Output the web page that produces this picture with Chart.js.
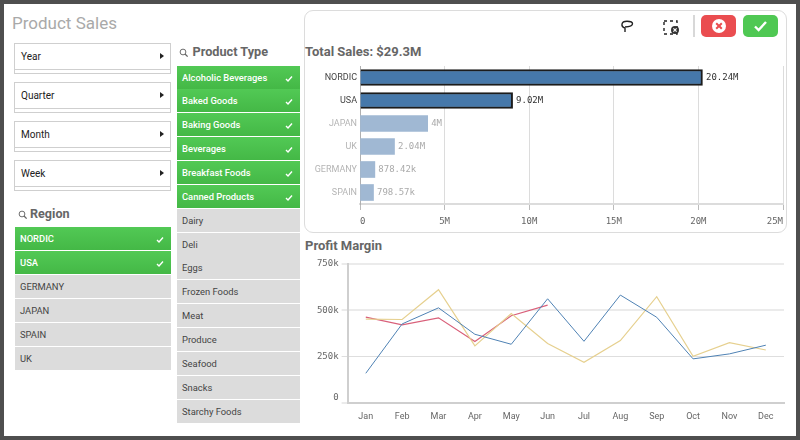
<!DOCTYPE html>
<html>
<head>
<meta charset="utf-8">
<title>Product Sales</title>
<script src="https://cdn.jsdelivr.net/npm/chart.js@4/dist/chart.umd.min.js"></script>
<style>
html,body{margin:0;padding:0;width:800px;height:440px;overflow:hidden;background:#4f4f4f;font-family:Roboto,sans-serif}
canvas{display:block}
svg{display:block}
</style>
</head>
<body>
<div id="root"></div>
<script>
const regions = ['NORDIC','USA','JAPAN','UK','GERMANY','SPAIN'];
const regionSales = [20240000,9020000,4000000,2040000,878420,798570];
const regionLabels = ['20.24M','9.02M','4M','2.04M','878.42k','798.57k'];
const selectedRegions = ['NORDIC','USA'];
const salesTicks = [0,5000000,10000000,15000000,20000000,25000000];

const months = ['Jan','Feb','Mar','Apr','May','Jun','Jul','Aug','Sep','Oct','Nov','Dec'];
const marginBlue = [159,426,513,370,316,562,332,582,462,237,264,311];
const marginYellow = [452,450,611,307,482,320,219,336,573,251,325,285];
const marginRed = [463,421,459,331,470,528];

const dateFilters = ['Year','Quarter','Month','Week'];
const regionList = ['NORDIC','USA','GERMANY','JAPAN','SPAIN','UK'];
const productTypes = ['Alcoholic Beverages','Baked Goods','Baking Goods','Beverages','Breakfast Foods','Canned Products','Dairy','Deli','Eggs','Frozen Foods','Meat','Produce','Seafood','Snacks','Starchy Foods'];
const selectedProducts = ['Alcoholic Beverages','Baked Goods','Baking Goods','Beverages','Breakfast Foods','Canned Products'];

const root = document.getElementById('root');
function el(tag, css, text){
  const e = document.createElement(tag);
  e.style.cssText = 'position:absolute;box-sizing:border-box;' + css;
  if(text !== undefined) e.textContent = text;
  root.appendChild(e);
  return e;
}
function svg(css, w, h, inner){
  const d = el('div', css + `width:${w}px;height:${h}px;`);
  d.innerHTML = `<svg width="${w}" height="${h}" viewBox="0 0 ${w} ${h}" xmlns="http://www.w3.org/2000/svg">${inner}</svg>`;
}
const mag = '<g transform="scale(.8)"><circle cx="5" cy="5" r="3.6" fill="none" stroke="#666" stroke-width="1.2"/><line x1="7.5" y1="7.5" x2="10.8" y2="10.8" stroke="#666" stroke-width="1.6"/></g>';

el('div','left:0;top:0;width:800px;height:440px;background:#4f4f4f;');
el('div','left:4px;top:4px;width:792px;height:432px;background:#fff;');
el('div','left:12px;top:12px;font:17px/22px Roboto,sans-serif;color:#a9a9a9;','Product Sales');

dateFilters.forEach((t,i)=>{
  const y = 43 + i*39;
  el('div',`left:14px;top:${y}px;width:157px;height:31px;border:1px solid #cfcfcf;background:#fff;`);
  el('div',`left:14px;top:${y+26}px;width:157px;height:1px;background:#cfcfcf;`);
  el('div',`left:21px;top:${y+6}px;font:10px/15px Roboto,sans-serif;color:#222;`,t);
  el('div',`left:160px;top:${y+10}px;width:0;height:0;border-left:4px solid #222;border-top:3px solid transparent;border-bottom:3px solid transparent;`);
});

function listRow(x,y,w,h,t,sel){
  el('div',`left:${x}px;top:${y}px;width:${w}px;height:${h}px;background:${sel?'linear-gradient(#52c955,#44b846)':'#dcdcdc'};`);
  el('div',`left:${x+5}px;top:${y}px;height:${h}px;font:${sel?'500 ':''}9.4px/${h+1}px Roboto,sans-serif;color:${sel?'#fff':'#444'};white-space:nowrap;`,t);
  if(sel) svg(`left:${x+w-15}px;top:${y+9}px;`,8,7,'<path d="M1 4 L3 6 L7 1.5" fill="none" stroke="#fff" stroke-width="1.4"/>');
}
svg('left:17.5px;top:210px;',10,10,mag);
el('div','left:30px;top:205px;font:bold 12.6px/18px Roboto,sans-serif;color:#666;','Region');
regionList.forEach((t,i)=>listRow(15,227+i*24,156,23,t,selectedRegions.includes(t)));

svg('left:179px;top:48px;',10,10,mag);
el('div','left:192.5px;top:43px;font:bold 12.7px/18px Roboto,sans-serif;color:#666;','Product Type');
productTypes.forEach((t,i)=>listRow(177,65.5+i*23.87,123,23,t,selectedProducts.includes(t)));

el('div','left:304px;top:10px;width:483px;height:223px;border:1px solid #dcdcdc;border-radius:9px;background:#fff;');
svg('left:620px;top:19px;',16,16,'<path d="M5 13 L5 9 M5 9 Q1.5 8 2 5 Q2.5 2.2 7 2.2 Q12.5 2.2 12.5 4.8 Q12.5 7.6 5 8" fill="none" stroke="#222" stroke-width="1.4"/>');
svg('left:662px;top:18px;',20,20,'<rect x="2" y="3" width="13" height="13" fill="none" stroke="#222" stroke-width="1.4" stroke-dasharray="3 3"/><circle cx="13" cy="12" r="4" fill="#333"/><path d="M11.4 10.4 L14.6 13.6 M14.6 10.4 L11.4 13.6" stroke="#fff" stroke-width="1.2"/>');
el('div','left:693px;top:15px;width:2px;height:22px;background:#d8d8d8;');
el('div','left:701px;top:15px;width:35px;height:22px;background:#ea4d50;border-radius:5px;');
svg('left:711px;top:18px;',16,16,'<circle cx="8" cy="8" r="7" fill="#fff"/><path d="M5.2 5.2 L10.8 10.8 M10.8 5.2 L5.2 10.8" stroke="#ea4d50" stroke-width="2"/>');
el('div','left:743px;top:15px;width:35px;height:22px;background:#4fc853;border-radius:5px;');
svg('left:753px;top:19px;',15,14,'<path d="M2 7.5 L5.6 11 L13 3" fill="none" stroke="#fff" stroke-width="2.4"/>');

el('div','left:305px;top:43px;font:bold 13px/18px Roboto,sans-serif;color:#666;','Total Sales: $29.3M');
el('div','left:305px;top:237px;font:bold 13px/18px Roboto,sans-serif;color:#666;','Profit Margin');

const c1 = el('canvas','left:305px;top:60px;'); c1.width = 490; c1.height = 180;
const c2 = el('canvas','left:305px;top:250px;'); c2.width = 490; c2.height = 185;

const isSel = i => selectedRegions.includes(regions[i]);
const tickFont = {family:'"DejaVu Sans Mono",monospace', size:9};
const catFont = {family:'Roboto,sans-serif', size:9};
function noPad(s){s.paddingTop = 0; s.paddingBottom = 0; s.paddingLeft = 0; s.paddingRight = 0;}

const barLabels = {
  id:'barLabels',
  afterDatasetsDraw(chart){
    const ctx = chart.ctx, meta = chart.getDatasetMeta(0);
    ctx.save();
    ctx.font = '9px "DejaVu Sans Mono",monospace';
    ctx.textBaseline = 'middle';
    meta.data.forEach((b,i)=>{
      ctx.fillStyle = isSel(i) ? '#333' : '#aaa';
      ctx.fillText(regionLabels[i], b.x + 3.5, b.y + 0.5);
    });
    ctx.restore();
  }
};

new Chart(c1,{
  type:'bar',
  data:{labels:regions,datasets:[{
    data:regionSales,
    backgroundColor:regions.map((r,i)=>isSel(i)?'#4678aa':'#a0b8d3'),
    borderColor:regions.map((r,i)=>isSel(i)?'#1c1c1c':'#a0b8d3'),
    borderWidth:regions.map((r,i)=>isSel(i)?2:0),
    barThickness:16
  }]},
  plugins:[barLabels],
  options:{
    indexAxis:'y',responsive:false,animation:false,
    layout:{padding:{left:0,right:12,top:6,bottom:0}},
    plugins:{legend:{display:false},tooltip:{enabled:false}},
    scales:{
      x:{
        min:0,max:25000000,
        afterBuildTicks(s){s.ticks = salesTicks.map(v=>({value:v}));},
        afterFit(s){s.height = 36; noPad(s);},
        grid:{color:'#dcdcdc',tickLength:6,tickColor:'#bbb'},
        border:{color:'#dcdcdc',width:2},
        ticks:{align:'inner',maxRotation:0,padding:6,color:'#666',font:tickFont,
          callback:v=>v===0?'0':(v/1000000)+'M'}
      },
      y:{
        afterFit(s){s.width = 55; noPad(s);},
        grid:{display:false,drawTicks:false},
        border:{color:'#b0b0b0',width:1},
        ticks:{padding:3,font:catFont,color:c=>isSel(c.index)?'#444':'#b5b5b5'}
      }
    }
  }
});

new Chart(c2,{
  type:'line',
  data:{labels:months,datasets:[
    {data:marginBlue,borderColor:'#4f82b4',borderWidth:1,pointRadius:0,tension:0},
    {data:marginYellow,borderColor:'#e6d08f',borderWidth:1.2,pointRadius:0,tension:0},
    {data:marginRed,borderColor:'#d9607a',borderWidth:1.2,pointRadius:0,tension:0}
  ]},
  options:{
    responsive:false,animation:false,
    layout:{padding:{left:0,right:11,top:14,bottom:0}},
    plugins:{legend:{display:false},tooltip:{enabled:false}},
    scales:{
      x:{
        offset:true,
        afterFit(s){s.height = 32.3; noPad(s);},
        grid:{display:false,drawTicks:false,offset:false},
        border:{color:'#cfcfcf',width:2},
        ticks:{padding:9,maxRotation:0,autoSkip:false,color:'#666',font:catFont}
      },
      y:{
        min:0,max:750,
        afterBuildTicks(s){s.ticks = [0,250,500,750].map(v=>({value:v}));},
        afterFit(s){s.width = 42.6; noPad(s);},
        grid:{color:c=>(c.tick&&c.tick.value===250)?'#dedede':'#ebebeb',lineWidth:c=>(c.tick&&c.tick.value===250)?1:2,tickLength:6},
        border:{color:'#cfcfcf',width:2},
        ticks:{padding:3,color:'#666',font:tickFont,callback:v=>v===0?['0','']:v+'k'}
      }
    }
  }
});
</script>
</body>
</html>
